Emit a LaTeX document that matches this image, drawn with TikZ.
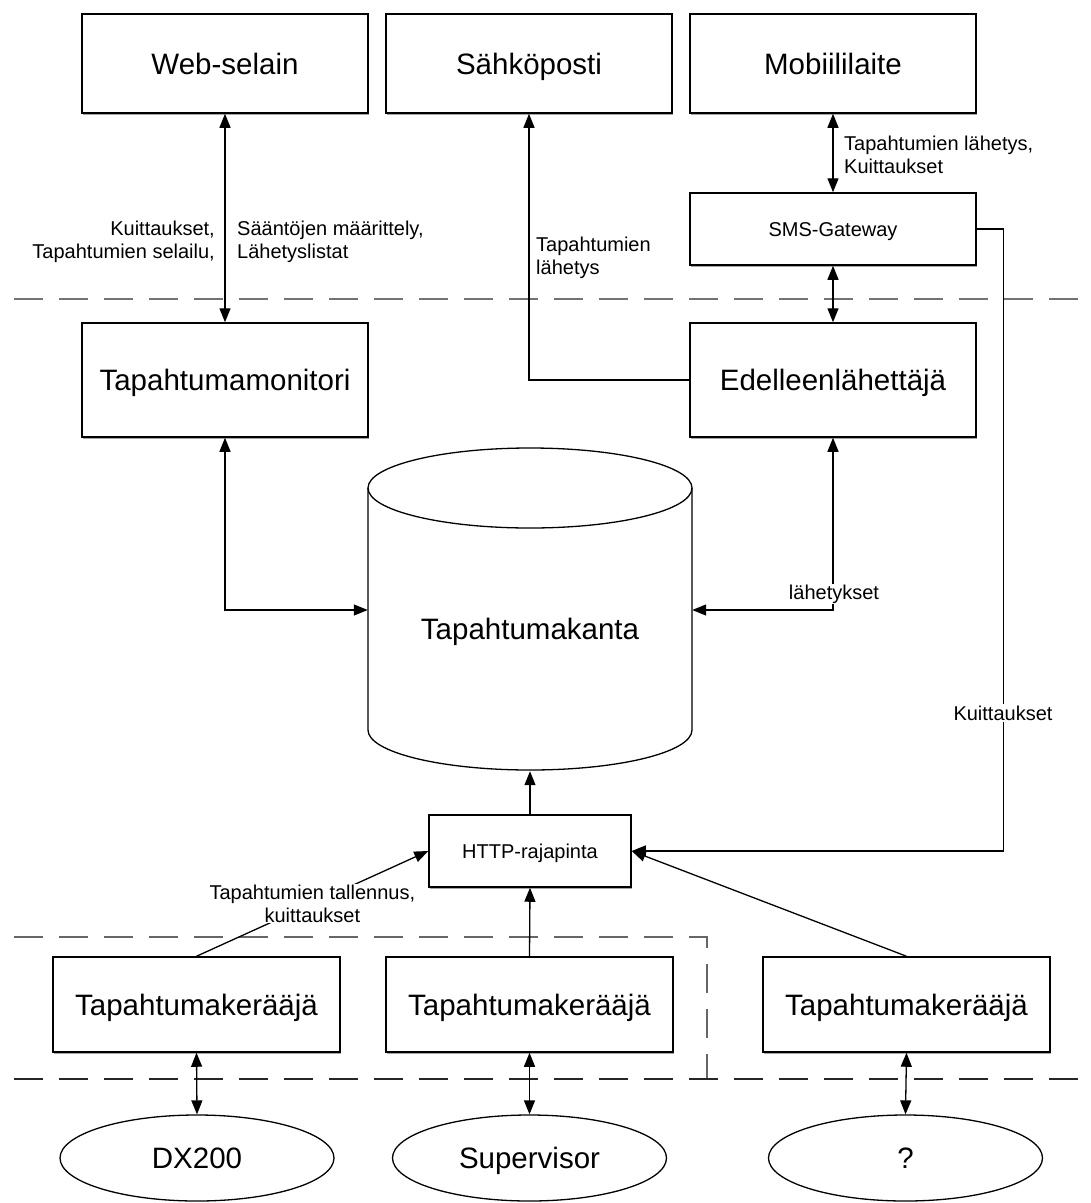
\documentclass[tikz,border=0pt]{standalone}
\usepackage{fontspec}
\setmainfont{Liberation Sans}
\usetikzlibrary{arrows.meta,shapes.geometric,shadows}

\begin{document}
\begin{tikzpicture}[x=1pt,y=-1pt,
  big/.style={font=\fontsize{29.5}{34}\selectfont},
  small/.style={font=\fontsize{20}{23}\selectfont},
  bigline/.style={big, text height=21.1pt, text depth=0pt},
  smallline/.style={small, text height=14.3pt, text depth=0pt},
  box/.style={draw, line width=1.5pt, fill=white, inner sep=0pt,
    minimum width=286pt, minimum height=99pt, bigline,
    drop shadow={shadow xshift=0.8pt, shadow yshift=-2pt, opacity=0.35, fill=black}},
  oval/.style={draw, ellipse, line width=1.3pt, fill=white, inner sep=0pt,
    minimum width=274pt, minimum height=86pt, bigline},
  conn/.style={line width=1.3pt, >={Triangle[length=14pt,width=11pt]}},
  lbl/.style={small, inner sep=1pt, align=left},
  sep/.style={line width=2pt, dash pattern=on 29pt off 16pt},
]
\useasboundingbox (0,0) rectangle (1091,1203);

% layer separators
\draw[sep, black!55] (14,299) -- (1091,299);
\draw[sep, black!60] (14,937) -- (707,937) -- (707,1079);
\draw[sep, black!85] (14,1079) -- (1091,1079);

% user-facing endpoints
\node[box] (web) at (225,63.5) {Web-selain};
\node[box] (sah) at (529,63.5) {Sähköposti};
\node[box] (mob) at (833,63.5) {Mobiililaite};
\node[box, minimum height=72pt, smallline] (sms) at (833,229) {SMS-Gateway};

% services
\node[box, minimum height=114pt] (mon) at (225,380) {Tapahtumamonitori};
\node[box, minimum height=114pt] (edl) at (833,380) {Edelleenlähettäjä};

% event database (cylinder)
\draw[line width=1.3pt, fill=white]
  (368,488) -- (368,730) arc[start angle=180, end angle=360, x radius=162pt, y radius=40pt]
  -- (692,488);
\draw[line width=1.3pt] (530,488) ellipse [x radius=162pt, y radius=40pt];
\node[minimum width=324pt, minimum height=322pt, inner sep=0pt] (db) at (530,610) {};
\node[bigline, inner sep=0pt] (dbtext) at (530,629) {Tapahtumakanta};

% interface and collectors
\node[box, minimum width=202pt, minimum height=72pt, smallline] (http) at (530,851) {HTTP-rajapinta};
\node[box, minimum width=287pt, minimum height=95pt] (col1) at (196.5,1004.5) {Tapahtumakerääjä};
\node[box, minimum width=287pt, minimum height=95pt] (col2) at (529.5,1004.5) {Tapahtumakerääjä};
\node[box, minimum width=287pt, minimum height=95pt] (col3) at (906.5,1004.5) {Tapahtumakerääjä};

% event sources
\node[oval] (dx) at (197,1158) {DX200};
\node[oval] (sup) at (529.5,1158) {Supervisor};
\node[oval] (unk) at (905.5,1158) {?};

% connectors
\draw[conn, <->] (web.south) -- (mon.north);
\draw[conn, ->] (edl.west) -| (sah.south);
\draw[conn, <->] (mob.south) -- (sms.north);
\draw[conn, <->] (sms.south) -- (edl.north);
\draw[conn, <->] (mon.south) |- (db.west);
\draw[conn, <->] (edl.south) |- (db.east);
\draw[conn, ->] (sms.east) -- ++(27,0) |- (http.east);
\draw[conn, ->] (http.north) -- (db.south);
\draw[conn, ->] (col1.north) -- (http.west)
  node[midway, small, fill=white, inner sep=1pt, align=center] (lcol) {Tapahtumien tallennus,\\kuittaukset};
\draw[conn, ->] (col2.north) -- (http.south);
\draw[conn, ->] (col3.north) -- (http.east);
\draw[conn, <->] (col1.south) -- (dx.north);
\draw[conn, <->] (col2.south) -- (sup.north);
\draw[conn, <->] (col3.south) -- (unk.north);

% connector labels
\node[lbl, anchor=east, align=right] (lweb1) at (216,242) {Kuittaukset,\\Tapahtumien selailu,};
\node[lbl, anchor=west] (lweb2) at (236,242) {Sääntöjen määrittely,\\Lähetyslistat};
\node[lbl, anchor=west] (lsah) at (535,258) {Tapahtumien\\lähetys};
\node[lbl, anchor=west] (lmob) at (843,155) {Tapahtumien lähetys,\\Kuittaukset};
\node[lbl, fill=white] (ledl) at (834,594) {lähetykset};
\node[lbl, fill=white, inner sep=2pt] (lsms) at (1003,713) {Kuittaukset};
\end{tikzpicture}
\end{document}
